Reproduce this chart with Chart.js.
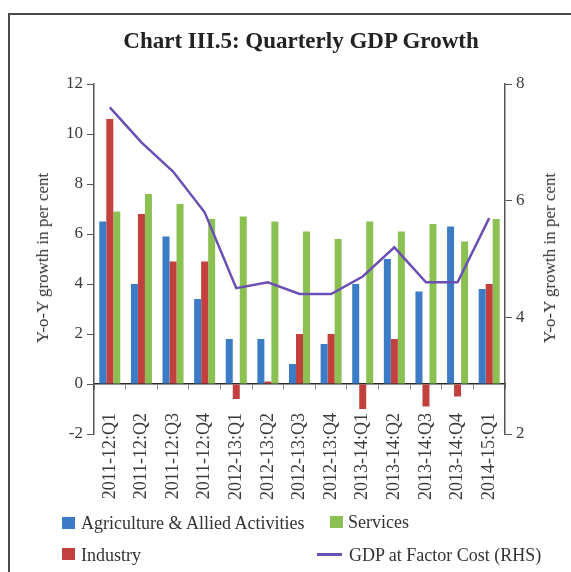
<!DOCTYPE html>
<html>
<head>
<meta charset="utf-8">
<script src="https://cdn.jsdelivr.net/npm/chart.js@4"></script>
<style>
  html, body { margin: 0; padding: 0; background: #fff; overflow: hidden; }
  body { width: 571px; height: 572px; position: relative; font-family: "Liberation Serif", serif; color: #333; }
  #frame { position: absolute; left: 8px; top: 13px; right: -5px; bottom: -5px; border-top: 2px solid #4a4a4a; border-left: 2px solid #4a4a4a; }
  #chart { position: absolute; left: 0; top: 0; }
  .title { position: absolute; left: 301px; top: 41px; transform: translate(-50%, -50%); font-size: 23px; font-weight: bold; color: #222; white-space: nowrap; }
  .ytitle { position: absolute; font-size: 17px; white-space: nowrap; transform: translate(-50%, -50%) rotate(-90deg); }
  .leg { position: absolute; font-size: 18px; white-space: nowrap; transform: translateY(-50%); }
  .sw { position: absolute; width: 13px; height: 12px; }
  .ln { position: absolute; width: 25px; height: 3px; }
</style>
</head>
<body>
<div id="frame"></div>
<canvas id="chart" width="571" height="572"></canvas>
<div class="title">Chart III.5: Quarterly GDP Growth</div>
<div class="ytitle" style="left:43px; top:258px;">Y-o-Y growth in per cent</div>
<div class="ytitle" style="left:550px; top:258px;">Y-o-Y growth in per cent</div>

<div class="sw" style="left:62px; top:517px; background:#3c7cc6;"></div>
<div class="leg" style="left:81px; top:523px;">Agriculture &amp; Allied Activities</div>
<div class="sw" style="left:330px; top:516px; background:#8bc152;"></div>
<div class="leg" style="left:348px; top:522px;">Services</div>
<div class="sw" style="left:62px; top:548px; background:#c2403d;"></div>
<div class="leg" style="left:81px; top:555px;">Industry</div>
<div class="ln" style="left:317px; top:553px; background:#6b4fb5;"></div>
<div class="leg" style="left:349px; top:555px;">GDP at Factor Cost (RHS)</div>

<script>
const quarters = ['2011-12:Q1', '2011-12:Q2', '2011-12:Q3', '2011-12:Q4',
    '2012-13:Q1', '2012-13:Q2', '2012-13:Q3', '2012-13:Q4',
    '2013-14:Q1', '2013-14:Q2', '2013-14:Q3', '2013-14:Q4', '2014-15:Q1'];
const agriculture = [6.5, 4.0, 5.9, 3.4, 1.8, 1.8, 0.8, 1.6, 4.0, 5.0, 3.7, 6.3, 3.8];
const industry = [10.6, 6.8, 4.9, 4.9, -0.6, 0.1, 2.0, 2.0, -1.0, 1.8, -0.9, -0.5, 4.0];
const services = [6.9, 7.6, 7.2, 6.6, 6.7, 6.5, 6.1, 5.8, 6.5, 6.1, 6.4, 5.7, 6.6];
const gdpFactorCost = [7.6, 7.0, 6.5, 5.8, 4.5, 4.6, 4.4, 4.4, 4.7, 5.2, 4.6, 4.6, 5.7];

const tickFont = { family: 'Liberation Serif', size: 17 };
const tickColor = '#3a3a3a';

function barSet(label, data, color) {
    return {
        type: 'bar',
        label: label,
        data: data,
        backgroundColor: color,
        borderWidth: 0,
        categoryPercentage: 0.665,
        barPercentage: 1.0,
        yAxisID: 'y',
        order: 1
    };
}

new Chart(document.getElementById('chart'), {
    data: {
        labels: quarters,
        datasets: [
            barSet('Agriculture & Allied Activities', agriculture, '#3c7cc6'),
            barSet('Industry', industry, '#c2403d'),
            barSet('Services', services, '#8bc152'),
            {
                type: 'line',
                label: 'GDP at Factor Cost (RHS)',
                data: gdpFactorCost,
                borderColor: '#6b4fb5',
                borderWidth: 2.5,
                pointRadius: 0,
                tension: 0,
                fill: false,
                yAxisID: 'y1',
                order: 0
            }
        ]
    },
    options: {
        responsive: false,
        animation: false,
        layout: { padding: { top: 84, bottom: 138, left: 0, right: 0 } },
        plugins: {
            legend: { display: false },
            tooltip: { enabled: false }
        },
        scales: {
            // x axis sits on the zero line, labels hang below it
            x: {
                axis: 'x',
                position: { y: 0 },
                offset: true,
                grid: { drawOnChartArea: false, drawTicks: true, tickLength: 5, color: '#888', offset: true },
                border: { display: true, color: '#2a2a2a', width: 1.5 },
                ticks: { minRotation: 90, maxRotation: 90, autoSkip: false, padding: 24, font: { family: 'Liberation Serif', size: 18 }, color: tickColor },
                afterFit: (scale) => { scale.height = 0; }
            },
            y: {
                position: 'left',
                min: -2,
                max: 12,
                ticks: { stepSize: 2, padding: 4, font: tickFont, color: tickColor },
                grid: { drawOnChartArea: false, tickLength: 7, color: '#555' },
                border: { color: '#555', width: 1.5 },
                afterFit: (scale) => { scale.width = 94; }
            },
            y1: {
                position: 'right',
                min: 2,
                max: 8,
                ticks: { stepSize: 2, padding: 4, font: tickFont, color: tickColor },
                grid: { drawOnChartArea: false, tickLength: 7, color: '#555' },
                border: { color: '#555', width: 1.5 },
                afterFit: (scale) => { scale.width = 66; }
            }
        }
    }
});
</script>
</body>
</html>
